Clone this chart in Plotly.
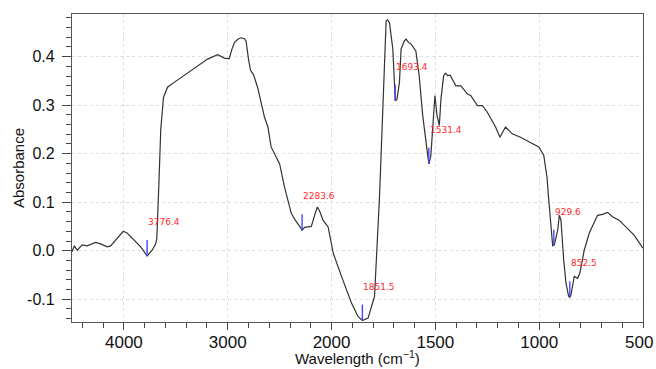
import plotly.graph_objects as go

# ---- data ----
WAVENUMBER = [4500, 4477, 4450, 4402, 4354, 4274, 4225, 4160, 4128, 4064, 4006, 3967, 3903, 3838, 3776,
              3725, 3693, 3683, 3662, 3645, 3619, 3580, 3516, 3420, 3290, 3194, 3097, 3033, 3000, 2985,
              2960, 2936, 2903, 2871, 2840, 2823, 2800, 2780, 2750, 2710, 2646, 2613, 2582, 2549, 2517,
              2500, 2453, 2388, 2350, 2324, 2300, 2284, 2260, 2227, 2195, 2160, 2137, 2115, 2082, 2033,
              1992, 1952, 1904, 1872, 1851, 1824, 1793, 1769, 1757, 1745, 1737, 1730, 1721, 1705, 1693,
              1685, 1673, 1665, 1649, 1641, 1630, 1617, 1594, 1578, 1561, 1537, 1531, 1522, 1513, 1502,
              1492, 1481, 1473, 1460, 1450, 1441, 1429, 1401, 1377, 1345, 1330, 1297, 1273, 1249, 1210,
              1189, 1162, 1130, 1090, 1042, 1002, 978, 962, 955, 946, 935, 927, 911, 903, 895,
              882, 871, 858, 852, 847, 839, 831, 815, 804, 783, 759, 719, 695, 671, 647,
              615, 583, 543, 511, 500]
ABSORBANCE = [-0.002, 0.010, 0.001, 0.012, 0.010, 0.017, 0.014, 0.008, 0.010, 0.025, 0.040, 0.036, 0.022, 0.008, -0.011,
              0.002, 0.015, 0.025, 0.145, 0.250, 0.316, 0.337, 0.347, 0.361, 0.381, 0.395, 0.404, 0.397, 0.396, 0.396,
              0.415, 0.429, 0.436, 0.439, 0.437, 0.432, 0.395, 0.372, 0.362, 0.335, 0.275, 0.255, 0.214, 0.200, 0.186,
              0.179, 0.131, 0.077, 0.063, 0.056, 0.048, 0.042, 0.048, 0.049, 0.050, 0.075, 0.090, 0.082, 0.063, 0.049,
              -0.005, -0.053, -0.108, -0.136, -0.144, -0.139, -0.094, 0.111, 0.248, 0.419, 0.474, 0.476, 0.470, 0.416, 0.309,
              0.312, 0.347, 0.416, 0.433, 0.436, 0.430, 0.426, 0.412, 0.361, 0.279, 0.197, 0.179, 0.195, 0.244, 0.320,
              0.279, 0.258, 0.313, 0.361, 0.366, 0.361, 0.362, 0.340, 0.340, 0.323, 0.320, 0.299, 0.299, 0.285, 0.255,
              0.234, 0.255, 0.241, 0.234, 0.224, 0.214, 0.197, 0.150, 0.110, 0.063, 0.010, 0.012, 0.042, 0.073, 0.063,
              -0.019, -0.067, -0.094, -0.096, -0.091, -0.067, -0.053, -0.057, -0.046, 0.001, 0.036, 0.073, 0.075, 0.079, 0.070,
              0.063, 0.049, 0.032, 0.012, 0.005]

PEAK_WN = [3776.4, 2283.6, 1851.5, 1693.4, 1531.4, 929.6, 852.5]
PEAK_ABS = [-0.011, 0.042, -0.144, 0.309, 0.179, 0.010, -0.096]
PEAK_LABELS = ["3776.4", "2283.6", "1851.5", "1693.4", "1531.4", "929.6", "852.5"]

X_TICKS = [4000, 3000, 2000, 1500, 1000, 500]
X_TICK_LABELS = ["4000", "3000", "2000", "1500", "1000", "500"]
Y_TICKS = [-0.1, 0.0, 0.1, 0.2, 0.3, 0.4]
Y_TICK_LABELS = ["-0.1", "0.0", "0.1", "0.2", "0.3", "0.4"]
X_TITLE = "Wavelength (cm<sup>−1</sup>)"
Y_TITLE = "Absorbance"


# ---- axis scale: x compressed 2x above 2000 cm-1 (typical FTIR display) ----
def to_axis(w):
    return w if w >= 2000 else 2 * w - 2000


FONT = "Liberation Sans, Arial, Helvetica, sans-serif"

fig = go.Figure()

fig.add_trace(go.Scatter(
    x=[to_axis(w) for w in WAVENUMBER], y=ABSORBANCE, mode="lines",
    line=dict(color="#333333", width=1.2), showlegend=False, hoverinfo="skip"))

mx, my = [], []
for w, a in zip(PEAK_WN, PEAK_ABS):
    mx += [to_axis(w), to_axis(w), None]
    my += [a, a + 0.033, None]
fig.add_trace(go.Scatter(x=mx, y=my, mode="lines",
                         line=dict(color="#4646ff", width=1.4),
                         showlegend=False, hoverinfo="skip"))

for w, a, lab in zip(PEAK_WN, PEAK_ABS, PEAK_LABELS):
    fig.add_annotation(x=to_axis(w), y=a, text=lab, showarrow=False,
                       xanchor="left", yanchor="middle", xshift=-1, yshift=34,
                       font=dict(family="DejaVu Sans, Verdana, sans-serif", size=9, color="#ff2a2a"))

# the right-most tick label sits flush with the window edge, as in the reference
fig.add_annotation(x=to_axis(X_TICKS[-1]), xref="x", yref="paper", y=0, yshift=-20, xshift=12,
                   xanchor="right", yanchor="middle", showarrow=False,
                   text=X_TICK_LABELS[-1], font=dict(size=17, family=FONT, color="#111111"))

# axis titles placed as paper annotations for exact positioning
fig.add_annotation(xref="paper", yref="paper", x=0.5, y=0, yshift=-35,
                   xanchor="center", yanchor="middle", showarrow=False,
                   text=X_TITLE, font=dict(size=15, family=FONT, color="#111111"))
fig.add_annotation(xref="paper", yref="paper", x=0, y=0.5, xshift=-54,
                   xanchor="center", yanchor="middle", showarrow=False, textangle=-90,
                   text=Y_TITLE, font=dict(size=15, family=FONT, color="#111111"))

fig.update_layout(
    width=656, height=369,
    margin=dict(l=72, r=13, t=14, b=47),
    paper_bgcolor="white", plot_bgcolor="white",
    font=dict(family=FONT, color="#111111"),
)
fig.update_xaxes(
    automargin=False,
    range=[to_axis(4500), to_axis(500)],
    tickmode="array", tickvals=[to_axis(t) for t in X_TICKS[:-1]], ticktext=X_TICK_LABELS[:-1],
    tickfont=dict(size=17), ticks="outside", ticklen=7, tickcolor="#444", tickwidth=1,
    ticklabelstandoff=-3,
    minor=dict(dtick=200, tick0=0, ticks="outside", ticklen=5, tickcolor="#444", showgrid=False),
    showline=True, linecolor="#555", linewidth=1.2, mirror=True,
    showgrid=True, gridcolor="#dddddd", griddash="dot", gridwidth=1,
    zeroline=False,
)
fig.update_yaxes(
    automargin=False,
    range=[-0.147, 0.488],
    tickmode="array", tickvals=Y_TICKS, ticktext=Y_TICK_LABELS,
    tickfont=dict(size=16), ticks="outside", ticklen=9, tickcolor="#444", tickwidth=1,
    ticklabelstandoff=4,
    minor=dict(dtick=0.02, tick0=0, ticks="outside", ticklen=5, tickcolor="#444", showgrid=False),
    showline=True, linecolor="#555", linewidth=1.2, mirror=True,
    showgrid=True, gridcolor="#dddddd", griddash="dot", gridwidth=1,
    zeroline=False,
)

# remove the default 8px page margin so the figure fills the window exactly
fig.write_html("out.html", config={"displayModeBar": False},
               post_script="document.body.style.margin='0px';document.body.style.overflow='hidden';")
